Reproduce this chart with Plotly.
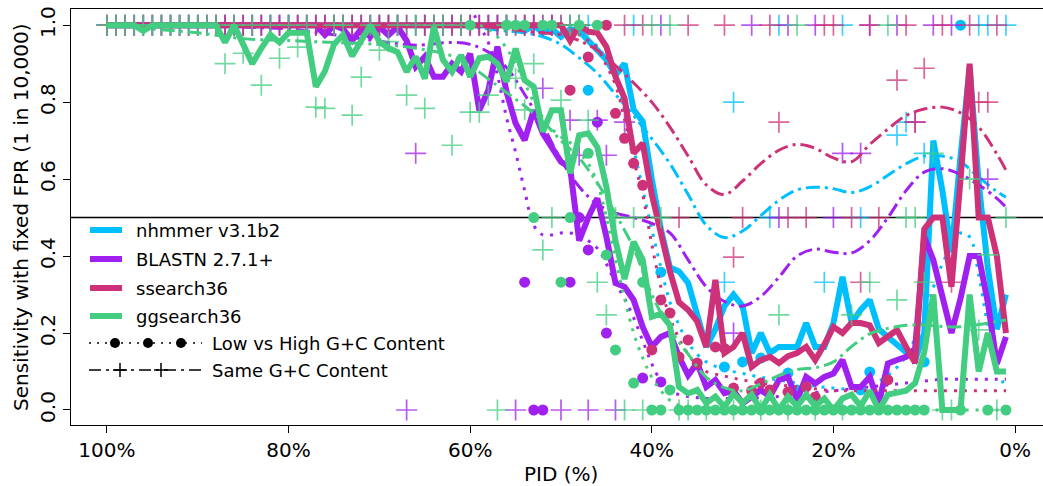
import plotly.graph_objects as go

W, H = 1043, 486
ML, MR, MT, MB = 71, 0, 9, 61
FONT = "DejaVu Sans"

N = None
PID = list(range(100, 0, -1))  # PID bins, 100% ... 1%

tools = ["nhmmer v3.1b2", "BLASTN 2.7.1+", "ssearch36", "ggsearch36"]
colors = ["#00BFFF", "#A020F0", "#CD3278", "#43CD80"]
style_labels = ["Low vs High G+C Content", "Same G+C Content"]

x_tick_vals = [100, 80, 60, 40, 20, 0]
x_tick_text = ["100%", "80%", "60%", "40%", "20%", "0%"]
y_tick_vals = [0.0, 0.2, 0.4, 0.6, 0.8, 1.0]
y_tick_text = ["0.0", "0.2", "0.4", "0.6", "0.8", "1.0"]

# ---- overall sensitivity (thick lines), PID 100 -> 1 ----
nhmmer_all = [
    1, 1, 1, 1, 1, 1, 1, 1, 1, 1,
    1, 1, 1, 1, 1, 1, 1, 1, 1, 1,
    1, 1, 1, 1, 1, 1, 1, 1, 1, 1,
    1, 1, 1, 1, 1, 1, 1, 1, 1, 1,
    1, 1, 1, 1, 1, 1, 0.985, 1, 0.98, 0.99,
    0.97, 0.99, 0.985, 0.96, 0.935, 0.91, 0.87, 0.90, 0.78, 0.75,
    0.60, 0.47, 0.37, 0.36, 0.33, 0.25, 0.164, 0.21, 0.27, 0.30,
    0.27, 0.148, 0.20, 0.148, 0.164, 0.164, 0.164, 0.226, 0.164, 0.164,
    0.226, 0.346, 0.226, 0.26, 0.286, 0.21, 0.19, 0.17, 0.148, 0.13,
    0.20, 0.70, 0.57, 0.41, 0.66, 0.89, 0.59, 0.37, 0.21, 0.30,
]
blastn_all = [
    1, 1, 1, 1, 1, 1, 1, 1, 1, 1,
    1, 1, 1, 1, 1, 1, 1, 1, 1, 1,
    1, 1, 1, 1, 0.975, 1, 0.99, 0.96, 0.99, 0.97,
    0.996, 0.974, 0.996, 0.96, 0.892, 0.918, 0.866, 0.866, 0.90, 0.879,
    0.926, 0.779, 0.831, 0.944, 0.827, 0.745, 0.701, 0.779, 0.719, 0.684,
    0.645, 0.63, 0.44, 0.50, 0.55, 0.45, 0.33, 0.32, 0.286, 0.216,
    0.164, 0.19, 0.20, 0.138, 0.09, 0.122, 0.06, 0.078, 0.044, 0.05,
    0.017, 0.035, 0.052, 0.035, 0.078, 0.086, 0.026, 0.086, 0.069, 0.086,
    0.095, 0.13, 0.06, 0.06, 0.086, 0.017, 0.121, 0.13, 0.138, 0.16,
    0.45, 0.39, 0.29, 0.20, 0.29, 0.40, 0.40, 0.28, 0.12, 0.19,
]
ssearch_all = [
    1, 1, 1, 1, 1, 1, 1, 1, 1, 1,
    1, 1, 1, 1, 1, 1, 1, 1, 1, 1,
    1, 1, 1, 1, 1, 1, 1, 1, 1, 1,
    1, 1, 1, 1, 1, 1, 1, 1, 1, 1,
    1, 1, 1, 1, 1, 1, 1, 1, 1, 1,
    1, 0.96, 1, 0.983, 0.98, 0.944, 0.866, 0.81, 0.667, 0.693,
    0.56, 0.46, 0.36, 0.28, 0.26, 0.23, 0.164, 0.338, 0.148, 0.164,
    0.20, 0.112, 0.13, 0.138, 0.122, 0.14, 0.148, 0.164, 0.13, 0.17,
    0.216, 0.20, 0.226, 0.226, 0.22, 0.174, 0.19, 0.208, 0.164, 0.122,
    0.47, 0.50, 0.50, 0.32, 0.60, 0.90, 0.50, 0.50, 0.40, 0.20,
]
ggsearch_all = [
    1, 1, 1, 1, 0.985, 1, 1, 1, 1, 1,
    1, 1, 1, 0.955, 1, 0.95, 0.90, 0.94, 0.975, 0.955,
    0.98, 0.98, 0.98, 0.84, 0.88, 0.95, 0.975, 0.92, 0.96, 1.0,
    0.957, 0.94, 0.93, 0.879, 0.918, 0.861, 0.996, 0.91, 0.879, 0.922,
    0.866, 0.914, 0.918, 0.90, 0.853, 0.939, 0.857, 0.84, 0.723, 0.779,
    0.779, 0.615, 0.714, 0.719, 0.683, 0.58, 0.44, 0.34, 0.437, 0.39,
    0.242, 0.25, 0.22, 0.06, 0.043, 0.052, 0.018, 0.035, 0.008, 0.043,
    0.018, 0.04, 0.0, 0.04, 0.0, 0.035, 0.01, 0.04, 0.01, 0.03,
    0.0, 0.03, 0.04, 0.01, 0.05, 0.0, 0.04, 0.044, 0.05, 0.07,
    0.15, 0.30, 0.0, 0.0, 0.0, 0.30, 0.10, 0.20, 0.10, 0.10,
]

# ---- Same G+C content (plus markers), PID 100 -> 1 ----
nhmmer_same = [
    1, 1, 1, 1, 1, 1, 1, 1, 1, 1,
    1, 1, 1, 1, 1, 1, 1, 1, 1, 1,
    1, 1, 1, 1, 1, 1, 1, 1, 1, 1,
    1, 1, 1, 1, 1, 1, 1, 1, 1, 1,
    1, 1, 1, 1, 1, 1, 1, 1, 1, 1,
    1, 1, 1, 1, N, N, N, N, 1, N,
    N, N, N, N, N, N, N, N, 0.332, 0.8,
    N, N, N, 0.5, 1, N, N, N, N, 0.332,
    N, 1, N, 0.5, N, N, N, 0.714, 0.748, N,
    0.667, N, N, N, N, N, 1, 1, N, 1,
]
blastn_same = [
    1, 1, 1, 1, 1, 1, 1, 1, 1, 1,
    1, 1, 1, 1, 1, 1, 1, 1, 1, 1,
    1, 1, 1, 1, 1, 1, 1, 1, 1, 1,
    1, 1, 1, 0, 0.667, 1, 1, 1, 1, 1,
    1, 1, 1, 1, 1, 0, 1, 1, 0.836, 1,
    0, 0.753, 0.662, 0, 0.753, 0.662, 0, 0.748, N, N,
    N, 1, N, N, N, N, N, N, N, 0.2,
    N, 1, N, N, 0.5, 1, N, N, 1, N,
    0.5, 0.667, N, 0.667, 1, N, N, 1, N, 0.748,
    N, 1, N, 1, N, N, N, 0.6, N, N,
]
ssearch_same = [
    1, 1, 1, 1, 1, 1, 1, 1, 1, 1,
    1, 1, 1, 1, 1, 1, 1, 1, 1, 1,
    1, 1, 1, 1, 1, 1, 1, 1, 1, 1,
    1, 1, 1, 1, 1, 1, 1, 1, 1, 1,
    1, 1, 1, 1, 1, 1, 1, 1, 1, 1,
    1, 1, 1, N, N, N, N, 1, N, 1,
    N, N, N, 0.5, 1, N, N, N, 1, 0.397,
    0.5, N, N, 1, 0.748, 0.5, N, 0.5, N, 1,
    1, N, 0.5, 0.332, 1, 0.5, N, 0.857, 1, 0.748,
    0.888, N, 1, 0.332, N, 1, 0.8, 0.8, 1, N,
]
ggsearch_same = [
    1, 1, 1, 1, 1, 1, 1, 1, 1, 1,
    1, 1, 1, 0.9, 1, 0.927, 1, 0.844, 1, 0.914,
    1, 0.943, 1, 0.787, 0.784, 1, 1, 0.766, 0.865, 1,
    0.935, 0.957, 1, 0.818, 1, 0.784, 1, 1, 0.688, 1,
    0.774, 0.774, 0.818, 0, 1, 0.862, 0.78, 0.9, 0.416, 0.5,
    0.805, 1, 1, 0.753, 0.332, 0.247, 0.5, 0, 0.5, 0,
    1, 0.5, 1, 0, 0, N, 0, N, N, 0,
    N, N, 0, N, 0.247, 0, 1, N, 0, N,
    N, 0, 0.247, N, 0.332, N, 1, 0.286, 0.5, 0.5,
    0.332, 0.667, 0, 0, N, 0.6, 0.208, 0.403, 0, 0.5,
]

# ---- Low vs High G+C content (dots), PID 100 -> 1 ----
nhmmer_lowhigh = [
    N, N, N, N, N, N, N, N, N, N,
    N, N, N, N, N, N, N, N, N, N,
    N, N, N, N, N, N, N, N, N, N,
    N, N, N, N, N, N, N, N, N, N,
    N, N, N, N, N, N, N, N, N, N,
    N, N, N, 0.831, N, N, N, N, N, N,
    N, 0.358, N, N, N, N, N, N, 0.112, N,
    0.125, N, 0.135, N, N, 0.096, 0.052, N, N, N,
    N, N, N, 0.052, 0.099, N, N, N, N, N,
    0.125, N, N, N, 1.0, N, N, N, N, N,
]
blastn_lowhigh = [
    N, N, N, N, N, N, N, N, N, N,
    N, N, N, N, N, N, N, N, N, N,
    N, N, N, N, N, N, N, N, N, N,
    N, N, N, N, N, N, N, N, N, N,
    N, N, N, N, N, N, 0.332, 0, 0, N,
    N, 0.332, 0.5, 0.416, 0.748, 0.2, N, N, N, 0.083,
    N, 0.073, N, N, N, N, N, N, N, N,
    N, N, N, N, N, N, N, N, N, N,
    N, N, N, N, N, N, N, N, N, N,
    N, N, N, N, N, N, N, N, N, N,
]
ssearch_lowhigh = [
    N, N, N, N, N, N, N, N, N, N,
    N, N, N, N, N, N, N, N, N, N,
    N, N, N, N, N, N, N, N, N, N,
    N, N, N, N, N, N, N, N, N, N,
    N, N, N, N, N, N, N, N, N, N,
    N, 0.831, N, 0.917, N, 1.0, 0.771, 0.706, 0.641, 0.584,
    0.156, 0.286, 0.252, 0.138, 0.182, 0.122, N, 0.164, 0.16, 0.057,
    N, 0.05, 0.07, 0.052, N, 0.047, N, 0.06, 0.034, N,
    N, N, N, N, N, N, 0.078, N, N, N,
    N, N, N, N, N, N, N, N, N, N,
]
ggsearch_lowhigh = [
    N, N, N, N, N, N, N, N, N, N,
    N, N, N, N, N, N, N, N, N, N,
    N, N, N, N, N, N, N, N, N, N,
    N, N, N, N, N, N, N, N, N, N,
    1, N, N, N, 1, 1, 1, 0.5, 1, 1,
    0.332, 0.5, 1, 0.667, 1, 0.403, 0.156, N, 0.07, 0.332,
    0, 0, 0.052, 0, 0, 0, 0, 0, 0, 0,
    0, 0, 0, 0, 0, 0, 0, 0, 0, 0,
    0, 0, 0, 0, 0, 0, 0, 0, 0, 0,
    0, N, N, N, 0, N, N, 0, N, 0,
]

# ---- smoothed Same G+C curves (dash-dot) ----
FIT_PID = [100, 95, 90, 85, 80, 75, 70, 66, 62, 60, 58, 56, 54, 52, 50, 48, 46, 44, 42, 40,
           38, 36, 34, 32, 30, 28, 26, 24, 22, 20, 18, 16, 14, 12, 10, 8, 6, 4, 2, 1]
nhmmer_same_fit = [1, 1, 1, 1, 1, 1, 1, 1, 0.998, 0.995, 0.99, 0.985, 0.98, 0.97, 0.95, 0.915, 0.875, 0.82, 0.765, 0.705,
                   0.64, 0.56, 0.48, 0.448, 0.465, 0.505, 0.545, 0.572, 0.579, 0.575, 0.565, 0.58, 0.61, 0.64, 0.66, 0.66, 0.645, 0.605, 0.568, 0.553]
blastn_same_fit = [1, 1, 1, 0.995, 0.99, 0.975, 0.958, 0.948, 0.955, 0.95, 0.93, 0.89, 0.82, 0.74, 0.65, 0.58, 0.535, 0.512, 0.50, 0.485,
                   0.46, 0.39, 0.32, 0.282, 0.27, 0.295, 0.345, 0.40, 0.418, 0.41, 0.408, 0.44, 0.50, 0.57, 0.618, 0.627, 0.612, 0.585, 0.55, 0.527]
ssearch_same_fit = [1, 1, 1, 1, 1, 1, 1, 1, 1, 0.998, 0.995, 0.99, 0.985, 0.98, 0.975, 0.96, 0.935, 0.895, 0.85, 0.80,
                    0.735, 0.66, 0.585, 0.56, 0.595, 0.64, 0.675, 0.69, 0.68, 0.655, 0.645, 0.69, 0.73, 0.765, 0.782, 0.787, 0.772, 0.735, 0.665, 0.623]
ggsearch_same_fit = [1, 0.99, 0.98, 0.965, 0.96, 0.955, 0.95, 0.94, 0.92, 0.895, 0.86, 0.825, 0.79, 0.75, 0.70, 0.655, 0.59, 0.51, 0.42, 0.30,
                     0.21, 0.145, 0.085, 0.058, 0.05, 0.068, 0.09, 0.105, 0.11, 0.125, 0.165, 0.198, 0.212, 0.22, 0.221, 0.217, 0.216, 0.222, 0.23, 0.234]

# ---- smoothed Low vs High G+C curves (dotted) ----
LH_PID = [60, 59, 58, 57, 56, 55, 54, 53, 52, 51, 50, 49, 48, 47, 46, 45, 44, 43, 42, 41, 40, 39, 38, 37, 36, 35, 34,
          32, 30, 28, 26, 24, 22, 20, 18, 16, 14, 12, 10, 8, 6, 5, 4, 3, 2, 1]
nhmmer_lh_fit = [1, 1, 1, 1, 1, 1, 1, 1, 1, 1, 1, 0.99, 0.98, 0.965, 0.945, 0.91, 0.86, 0.78, 0.68, 0.575, 0.47, 0.37, 0.28, 0.22, 0.175, 0.145, 0.125,
                 0.105, 0.095, 0.085, 0.078, 0.07, 0.062, 0.057, 0.055, 0.065, 0.09, 0.14, 0.25, 0.38, 0.46, 0.45, 0.35, 0.22, 0.12, 0.05]
blastn_lh_fit = [1.05, 1.0, 0.955, 0.87, 0.76, 0.67, 0.57, 0.48, 0.455, 0.455, 0.46, 0.46, 0.455, 0.44, 0.42, 0.38, 0.33, 0.29, 0.24, 0.18, 0.12, 0.075, 0.05, 0.04, 0.035, 0.032, 0.03,
                 0.03, 0.03, 0.032, 0.035, 0.04, 0.045, 0.05, 0.055, 0.06, 0.065, 0.07, 0.075, 0.08, 0.08, 0.08, 0.08, 0.08, 0.08, 0.08]
ssearch_lh_fit = [1, 1, 1, 1, 1, 1, 1, 1, 1, 1, 1, 0.99, 0.975, 0.96, 0.94, 0.895, 0.845, 0.755, 0.65, 0.56, 0.43, 0.32, 0.24, 0.185, 0.145, 0.115, 0.10,
                  0.088, 0.078, 0.07, 0.065, 0.06, 0.055, 0.05, 0.05, 0.05, 0.05, 0.05, 0.05, 0.05, 0.05, 0.05, 0.05, 0.05, 0.05, 0.05]
ggsearch_lh_fit = [1, 1, 0.99, 0.97, 0.94, 0.90, 0.85, 0.80, 0.76, 0.73, 0.71, 0.695, 0.67, 0.64, 0.59, 0.50, 0.39, 0.29, 0.20, 0.135, 0.085, 0.05, 0.025, 0.012, 0.005, 0.0, 0.0,
                   0.0, 0.0, 0.0, 0.0, 0.0, 0.0, 0.0, 0.0, 0.0, 0.0, 0.0, 0.0, 0.0, 0.0, 0.0, 0.0, 0.0, 0.0, 0.0]

overall = [nhmmer_all, blastn_all, ssearch_all, ggsearch_all]
same = [nhmmer_same, blastn_same, ssearch_same, ggsearch_same]
lowhigh = [nhmmer_lowhigh, blastn_lowhigh, ssearch_lowhigh, ggsearch_lowhigh]
same_fit = [nhmmer_same_fit, blastn_same_fit, ssearch_same_fit, ggsearch_same_fit]
lh_fit = [nhmmer_lh_fit, blastn_lh_fit, ssearch_lh_fit, ggsearch_lh_fit]


def rgba(hex_c, a):
    h = hex_c.lstrip("#")
    return "rgba(%d,%d,%d,%.2f)" % (int(h[0:2], 16), int(h[2:4], 16), int(h[4:6], 16), a)


DASHDOT = "14px,5px,3px,5px"
DOTTED = "3px,7px"

fig = go.Figure()
for i in range(4):
    c = colors[i]
    fig.add_trace(go.Scatter(x=PID, y=overall[i], mode="lines", name=tools[i],
                             line=dict(color=c, width=6), showlegend=False, hoverinfo="skip"))
    fig.add_trace(go.Scatter(x=FIT_PID, y=same_fit[i], mode="lines",
                             line=dict(color=c, width=3, dash=DASHDOT, shape="spline"),
                             showlegend=False, hoverinfo="skip"))
    fig.add_trace(go.Scatter(x=LH_PID, y=lh_fit[i], mode="lines",
                             line=dict(color=c, width=3, dash=DOTTED, shape="spline"),
                             showlegend=False, hoverinfo="skip"))
    fig.add_trace(go.Scatter(x=PID, y=same[i], mode="markers",
                             marker=dict(symbol="cross-thin", size=15, color=rgba(c, 0.75),
                                         line=dict(color=rgba(c, 0.75), width=1.7)),
                             showlegend=False, hoverinfo="skip"))
    fig.add_trace(go.Scatter(x=PID, y=lowhigh[i], mode="markers",
                             marker=dict(symbol="circle", size=11, color=c, line=dict(width=0)),
                             showlegend=False, hoverinfo="skip"))

PW = W - ML - MR
PH = H - MT - MB


def px(xp):
    return (xp - ML) / PW


def py(yp):
    return (H - MB - yp) / PH


shapes = [dict(type="line", xref="paper", yref="y", x0=0, x1=1, y0=0.5, y1=0.5,
               line=dict(color="black", width=1.5), layer="below")]
annotations = []

# legend (drawn by hand to mimic the long line samples)
leg_y = [230, 259, 288, 316, 343, 370]
for i in range(4):
    shapes.append(dict(type="line", xref="paper", yref="paper", x0=px(90), x1=px(122),
                       y0=py(leg_y[i]), y1=py(leg_y[i]), line=dict(color=colors[i], width=6)))
    annotations.append(dict(xref="paper", yref="paper", x=px(134), y=py(leg_y[i]), text=tools[i],
                            showarrow=False, xanchor="left", yanchor="middle",
                            font=dict(family=FONT, size=18, color="black")))
# Low vs High sample
shapes.append(dict(type="line", xref="paper", yref="paper", x0=px(89), x1=px(202),
                   y0=py(leg_y[4]), y1=py(leg_y[4]), line=dict(color="black", width=1.5, dash="2px,6px")))
for xc in [115, 148, 181]:
    shapes.append(dict(type="circle", xref="paper", yref="paper", x0=px(xc - 5), x1=px(xc + 5),
                       y0=py(leg_y[4] + 5), y1=py(leg_y[4] - 5), fillcolor="black", line=dict(width=0)))
# Same G+C sample
shapes.append(dict(type="line", xref="paper", yref="paper", x0=px(89), x1=px(202),
                   y0=py(leg_y[5]), y1=py(leg_y[5]), line=dict(color="black", width=1.5, dash="12px,5px,3px,5px")))
for xc in [120, 161]:
    shapes.append(dict(type="line", xref="paper", yref="paper", x0=px(xc - 7), x1=px(xc + 7),
                       y0=py(leg_y[5]), y1=py(leg_y[5]), line=dict(color="black", width=1.5)))
    shapes.append(dict(type="line", xref="paper", yref="paper", x0=px(xc), x1=px(xc),
                       y0=py(leg_y[5] - 7), y1=py(leg_y[5] + 7), line=dict(color="black", width=1.5)))
for k in range(2):
    annotations.append(dict(xref="paper", yref="paper", x=px(210), y=py(leg_y[4 + k]), text=style_labels[k],
                            showarrow=False, xanchor="left", yanchor="middle",
                            font=dict(family=FONT, size=18, color="black")))

# axis titles
annotations.append(dict(xref="paper", yref="paper", x=px(561), y=py(474), text="PID (%)", showarrow=False,
                        xanchor="center", yanchor="middle", font=dict(family=FONT, size=20, color="black")))
annotations.append(dict(xref="paper", yref="paper", x=px(21), y=0.5, text="Sensitivity with fixed FPR (1 in 10,000)",
                        showarrow=False, textangle=-90, xanchor="center", yanchor="middle",
                        font=dict(family=FONT, size=20, color="black")))

fig.update_layout(
    width=W, height=H,
    margin=dict(l=ML, r=MR, t=MT, b=MB),
    paper_bgcolor="white", plot_bgcolor="white",
    showlegend=False,
    shapes=shapes, annotations=annotations,
    font=dict(family=FONT, size=20, color="black"),
)
fig.update_xaxes(range=[103.96, -3.08], tickvals=x_tick_vals, ticktext=x_tick_text,
                 ticks="outside", ticklen=7, tickwidth=1.3, tickcolor="black",
                 showline=True, linecolor="black", linewidth=1.3, mirror=True,
                 showgrid=False, zeroline=False, tickfont=dict(family=FONT, size=20, color="black"))
fig.update_yaxes(range=[-0.039, 1.042], tickvals=y_tick_vals, ticktext=y_tick_text, tickangle=-90,
                 ticks="outside", ticklen=7, tickwidth=1.3, tickcolor="black",
                 showline=True, linecolor="black", linewidth=1.3, mirror=False,
                 showgrid=False, zeroline=False, tickfont=dict(family=FONT, size=20, color="black"))

fig.write_html("out.html")
